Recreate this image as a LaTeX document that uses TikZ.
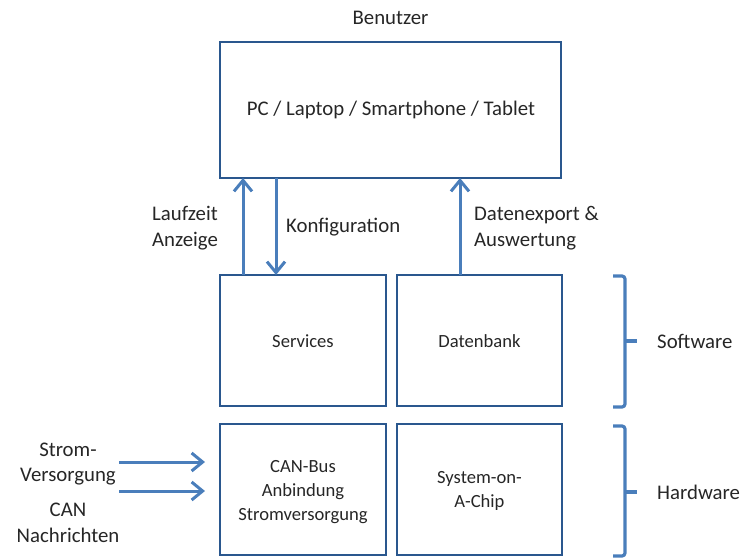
\documentclass[tikz,border=0pt]{standalone}
\usepackage{fontspec}
\setmainfont{Carlito}
\usetikzlibrary{arrows.meta}
\definecolor{boxline}{HTML}{2A578E}
\definecolor{arrowblue}{HTML}{4A7EBB}
\definecolor{txt}{HTML}{262626}
\begin{document}
\begin{tikzpicture}[x=1pt,y=-1pt,
  block/.style={draw=boxline,line width=2pt},
  flow/.style={draw=arrowblue,line width=3pt,-{Straight Barb[length=11pt,width=18pt,line width=3pt]}},
  brk/.style={draw=arrowblue,line width=3.2pt,rounded corners=3pt},
  lbl/.style={text=txt,font=\fontsize{20.8}{25.5}\selectfont,align=center,inner sep=0pt},
  small/.style={text=txt,font=\fontsize{18.6}{24}\selectfont,align=center,inner sep=0pt}]
\useasboundingbox (0,0) rectangle (742,559);
% boxes
\draw[block] (220,42) rectangle (561,178);
\draw[block] (220,275) rectangle (386,406);
\draw[block] (397,275) rectangle (562,406);
\draw[block] (220,424) rectangle (386,555);
\draw[block] (397,424) rectangle (562,555);
\node[lbl] (pc) at (391,110) {PC / Laptop / Smartphone / Tablet};
\node[small] (srv) at (303,341) {Services};
\node[small] (db) at (479.5,341) {Datenbank};
\node[small] (can) at (303,492) {CAN-Bus\\Anbindung\\Stromversorgung};
\node[small] (soc) at (479.5,491) {System-on-\\A-Chip};
% anchor points on the box edges
\coordinate (pcA) at (243,178);
\coordinate (pcB) at (276,178);
\coordinate (pcC) at (460,178);
\coordinate (sA) at (243,275);
\coordinate (sB) at (276,275);
\coordinate (dC) at (460,275);
\coordinate (l1) at (119,462);
\coordinate (l1e) at (205,462);
\coordinate (l2) at (119,491);
\coordinate (l2e) at (205,491);
% arrows
\draw[flow] (sA) -- (pcA);
\draw[flow] (pcB) -- (sB);
\draw[flow] (dC) -- (pcC);
\draw[flow] (l1) -- (l1e);
\draw[flow] (l2) -- (l2e);
% labels
\node[lbl] (ben) at (390.5,18) {Benutzer};
\node[lbl] (lz) at (185,228) {Laufzeit\\Anzeige};
\node[lbl,anchor=west] (kf) at (286,227) {Konfiguration};
\node[lbl,align=left,anchor=west] (dx) at (474,228) {Datenexport \&\\Auswertung};
\node[lbl] (sv) at (68,464) {Strom-\\Versorgung};
\node[lbl] (cn) at (68,523) {CAN\\Nachrichten};
% brackets
\draw[brk] (613,276) -- (625,276) -- (625,407) -- (613,407);
\draw[brk] (625,341) -- (637,341);
\node[lbl,anchor=west] (sw) at (657,341) {Software};
\draw[brk] (613,426) -- (625,426) -- (625,556) -- (613,556);
\draw[brk] (625,492) -- (637,492);
\node[lbl,anchor=west] (hw) at (657,492) {Hardware};
\end{tikzpicture}
\end{document}
